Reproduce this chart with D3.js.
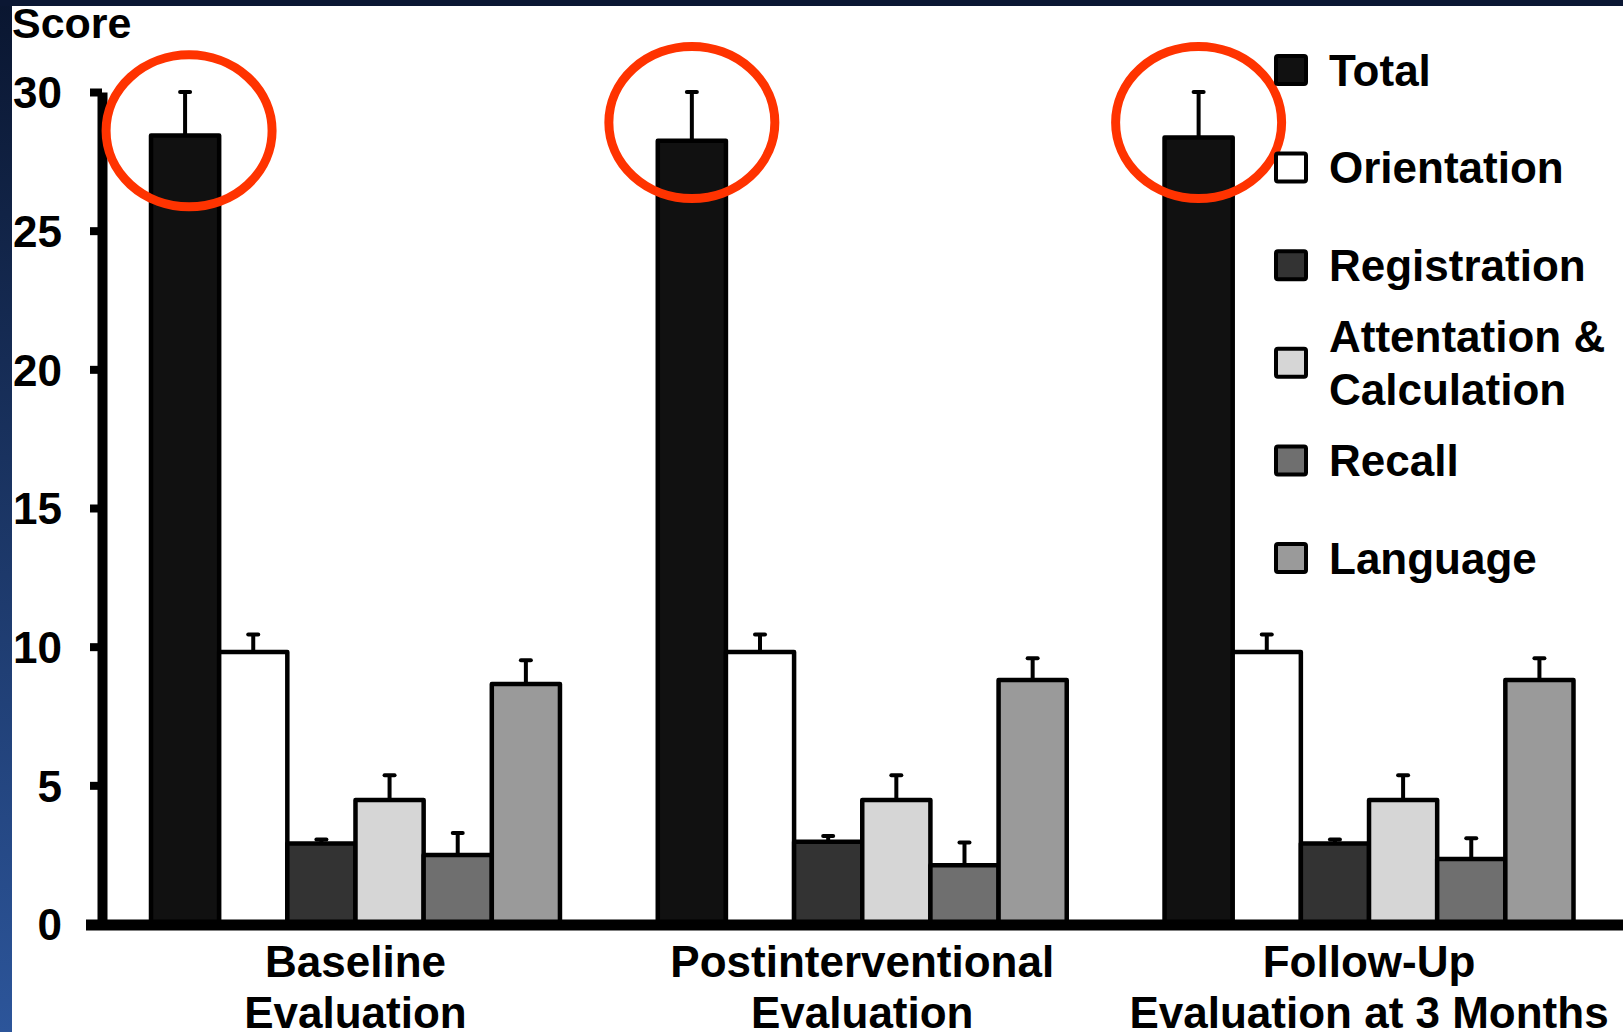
<!DOCTYPE html>
<html>
<head>
<meta charset="utf-8">
<script src="https://cdn.jsdelivr.net/npm/d3@7"></script>
<style>
  body { margin: 0; overflow: hidden; background: #0b1733; }
  svg text { font-family: "Liberation Sans", Arial, sans-serif; font-weight: bold; fill: #000; }
  .bar { stroke: #000; stroke-width: 4.5; stroke-linejoin: round; }
  .err { stroke: #000; stroke-width: 4; }
  .annot { fill: none; stroke: #ff3300; stroke-width: 9; }
</style>
</head>
<body>
<div id="chart"></div>
<script>
// Evaluation time points (two-line labels)
const categories = ['Baseline', 'Postinterventional', 'Follow-Up'];
const categoryLines = [
  ['Baseline', 'Evaluation'],
  ['Postinterventional', 'Evaluation'],
  ['Follow-Up', 'Evaluation at 3 Months']
];

// MMSE subscales
const subscales = ['Total', 'Orientation', 'Registration', 'Attentation & Calculation', 'Recall', 'Language'];
const legendLines = [['Total'], ['Orientation'], ['Registration'], ['Attentation &', 'Calculation'], ['Recall'], ['Language']];
const subscaleColors = ['#111111', '#ffffff', '#333333', '#d6d6d6', '#6f6f6f', '#9a9a9a'];

// mean scores per time point, in subscale order
const baselineMeans = [28.43, 9.81, 2.90, 4.47, 2.49, 8.65];
const postMeans     = [28.24, 9.81, 2.97, 4.47, 2.12, 8.80];
const followUpMeans = [28.36, 9.81, 2.90, 4.47, 2.34, 8.80];

// upper error (SD) per time point
const baselineErrors = [1.57, 0.63, 0.15, 0.89, 0.79, 0.86];
const postErrors     = [1.76, 0.63, 0.20, 0.89, 0.82, 0.78];
const followUpErrors = [1.64, 0.63, 0.15, 0.89, 0.75, 0.78];

const yTicks = [0, 5, 10, 15, 20, 25, 30];

// red highlight rings around the Total bars (score level of ring centre)
const highlightLevels = [28.6, 28.9, 28.9];

class GroupedBarChart {

  constructor(_config) {
    this.config = {
      parentElement: _config.parentElement,
      containerWidth: 1623,
      containerHeight: 1032,
      margin: { top: 92, right: 0, bottom: 108, left: 102 }
    };
    this.initVis();
  }

  initVis() {
    let vis = this;
    const c = vis.config;

    vis.width = c.containerWidth - c.margin.left - c.margin.right;
    vis.height = c.containerHeight - c.margin.top - c.margin.bottom;

    vis.svg = d3.select(c.parentElement).append('svg')
      .attr('width', c.containerWidth)
      .attr('height', c.containerHeight);

    // dark slide frame + white figure panel
    const grad = vis.svg.append('defs').append('linearGradient')
      .attr('id', 'frame').attr('x1', 0).attr('y1', 0).attr('x2', 0).attr('y2', 1);
    grad.append('stop').attr('offset', '0%').attr('stop-color', '#0a1630');
    grad.append('stop').attr('offset', '100%').attr('stop-color', '#2c559a');

    vis.svg.append('rect')
      .attr('width', c.containerWidth).attr('height', c.containerHeight)
      .attr('fill', 'url(#frame)');
    vis.svg.append('rect')
      .attr('width', c.containerWidth).attr('height', 6)
      .attr('fill', '#0b1733');
    vis.svg.append('rect')
      .attr('x', 12).attr('y', 6)
      .attr('width', c.containerWidth - 12).attr('height', c.containerHeight - 6)
      .attr('fill', '#fff');

    vis.chartArea = vis.svg.append('g')
      .attr('transform', `translate(${c.margin.left},${c.margin.top})`);

    // scales
    vis.xScale = d3.scaleBand()
      .domain(categories)
      .range([49, 1471.5])
      .paddingInner(0.193)
      .paddingOuter(0);

    vis.xSub = d3.scaleBand()
      .domain(subscales)
      .range([0, vis.xScale.bandwidth()])
      .padding(0);

    vis.yScale = d3.scaleLinear()
      .domain([0, 30])
      .range([vis.height, 0]);

    vis.colorScale = d3.scaleOrdinal()
      .domain(subscales)
      .range(subscaleColors);

    // y axis label
    vis.svg.append('text')
      .attr('x', 12)
      .attr('y', 38)
      .attr('font-size', 43)
      .text('Score');

    vis.updateVis();
  }

  updateVis() {
    let vis = this;
    const means = [baselineMeans, postMeans, followUpMeans];
    const errors = [baselineErrors, postErrors, followUpErrors];

    vis.groups = categories.map((cat, i) => ({
      category: cat,
      lines: categoryLines[i],
      bars: subscales.map((s, j) => ({ key: s, value: means[i][j], err: errors[i][j] }))
    }));

    vis.renderVis();
  }

  renderVis() {
    let vis = this;
    const bw = vis.xSub.bandwidth();

    const group = vis.chartArea.selectAll('.group')
      .data(vis.groups)
      .join('g')
      .attr('class', 'group')
      .attr('transform', d => `translate(${vis.xScale(d.category)},0)`);

    // bars
    group.selectAll('.bar')
      .data(d => d.bars)
      .join('rect')
      .attr('class', 'bar')
      .attr('x', d => vis.xSub(d.key))
      .attr('y', d => vis.yScale(d.value))
      .attr('width', bw)
      .attr('height', d => vis.yScale(0) - vis.yScale(d.value))
      .attr('fill', d => vis.colorScale(d.key));

    // error whiskers (upper only)
    group.selectAll('.err-stem')
      .data(d => d.bars)
      .join('line')
      .attr('class', 'err err-stem')
      .attr('x1', d => vis.xSub(d.key) + bw / 2)
      .attr('x2', d => vis.xSub(d.key) + bw / 2)
      .attr('y1', d => vis.yScale(d.value))
      .attr('y2', d => vis.yScale(d.value + d.err));

    group.selectAll('.err-cap')
      .data(d => d.bars)
      .join('line')
      .attr('class', 'err err-cap')
      .attr('stroke-linecap', 'round')
      .attr('x1', d => vis.xSub(d.key) + bw / 2 - 5)
      .attr('x2', d => vis.xSub(d.key) + bw / 2 + 5)
      .attr('y1', d => vis.yScale(d.value + d.err))
      .attr('y2', d => vis.yScale(d.value + d.err));

    // x axis: heavy baseline + two-line category labels
    vis.chartArea.append('line')
      .attr('x1', -16)
      .attr('x2', vis.width + 10)
      .attr('y1', vis.yScale(0) + 1)
      .attr('y2', vis.yScale(0) + 1)
      .attr('stroke', '#000')
      .attr('stroke-width', 11);

    vis.xAxis = d3.axisBottom(vis.xScale).tickSize(0);
    vis.xAxisGroup = vis.chartArea.append('g')
      .attr('transform', `translate(0,${vis.height})`)
      .call(vis.xAxis);
    vis.xAxisGroup.select('.domain').remove();
    vis.xAxisGroup.selectAll('.tick text')
      .attr('y', 0).attr('dy', null)
      .attr('font-size', 44)
      .attr('font-family', null)
      .each(function(d, i) {
        const t = d3.select(this).text(null);
        categoryLines[i].forEach((line, k) => {
          t.append('tspan').attr('x', 0).attr('y', 53 + k * 51).text(line);
        });
      });

    // y axis
    vis.yAxis = d3.axisLeft(vis.yScale)
      .tickValues(yTicks)
      .tickSize(12)
      .tickSizeOuter(0)
      .tickPadding(28);
    vis.yAxisGroup = vis.chartArea.append('g').call(vis.yAxis);
    vis.yAxisGroup.select('.domain')
      .attr('stroke-width', 10);
    vis.yAxisGroup.selectAll('.tick line')
      .attr('stroke-width', 8);
    vis.yAxisGroup.selectAll('.tick text')
      .attr('font-size', 44)
      .attr('font-family', null)
      .attr('dy', '0.36em');
    vis.yAxisGroup.attr('font-family', null).attr('font-size', null);
    vis.xAxisGroup.attr('font-family', null).attr('font-size', null);

    // red highlight rings around Total bars
    vis.chartArea.selectAll('.annot')
      .data(vis.groups)
      .join('ellipse')
      .attr('class', 'annot')
      .attr('cx', (d, i) => vis.xScale(d.category) + vis.xSub('Total') + bw / 2 + (i === 0 ? 4 : 0))
      .attr('cy', (d, i) => vis.yScale(highlightLevels[i]))
      .attr('rx', 83)
      .attr('ry', 76);

    // legend
    const legend = vis.svg.append('g')
      .attr('transform', 'translate(1276,70)');
    const item = legend.selectAll('.legend-item')
      .data(subscales)
      .join('g')
      .attr('class', 'legend-item')
      .attr('transform', (d, i) => `translate(0,${i * 97.6})`);
    item.append('rect')
      .attr('x', 0).attr('y', -14)
      .attr('width', 30).attr('height', 28)
      .attr('rx', 2)
      .attr('fill', d => vis.colorScale(d))
      .attr('stroke', '#000')
      .attr('stroke-width', 4);
    item.append('text')
      .attr('font-size', 44)
      .each(function(d, i) {
        const t = d3.select(this);
        const lines = legendLines[i];
        lines.forEach((line, k) => {
          t.append('tspan')
            .attr('x', 53)
            .attr('y', (k - (lines.length - 1) / 2) * 53)
            .attr('dy', '0.36em')
            .text(line);
        });
      });
  }
}

new GroupedBarChart({ parentElement: '#chart' });
</script>
</body>
</html>
